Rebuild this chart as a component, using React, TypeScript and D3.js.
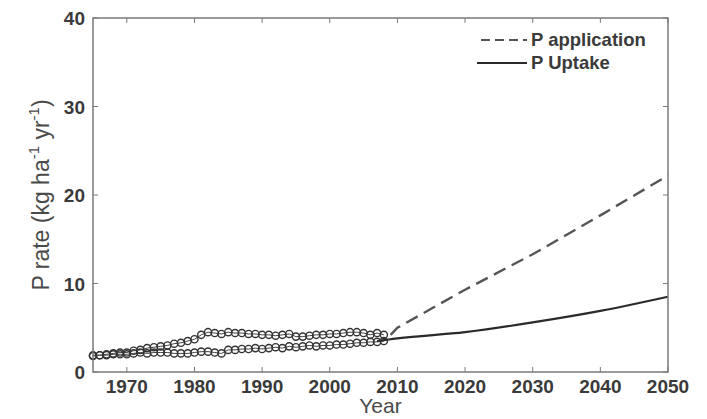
import React from 'react';
import * as d3 from 'd3';

// historical years 1965..2008
const years = d3.range(1965, 2009);

const appHist = [1.9, 1.9, 2.0, 2.1, 2.2, 2.2, 2.4, 2.5, 2.7, 2.8, 2.9, 3.0, 3.2, 3.3, 3.5, 3.7,
  4.2, 4.5, 4.4, 4.3, 4.5, 4.4, 4.4, 4.3, 4.3, 4.2, 4.2, 4.1, 4.2, 4.3, 4.0, 4.0, 4.1, 4.2,
  4.2, 4.3, 4.3, 4.4, 4.5, 4.5, 4.4, 4.2, 4.4, 4.2];

const uptHist = [1.8, 1.9, 1.9, 2.0, 2.0, 2.0, 2.1, 2.2, 2.1, 2.2, 2.2, 2.2, 2.1, 2.1, 2.1, 2.2,
  2.3, 2.3, 2.2, 2.1, 2.5, 2.5, 2.6, 2.6, 2.7, 2.6, 2.7, 2.8, 2.7, 2.9, 2.8, 2.9, 3.0, 2.9,
  3.0, 3.0, 3.1, 3.1, 3.2, 3.3, 3.3, 3.4, 3.4, 3.5];

// projections
const projYears = [2009, 2010, 2020, 2030, 2040, 2050];
const appProj = [4.2, 5.0, 9.3, 13.3, 17.7, 22.2];
const uptProj = [3.7, 3.8, 4.5, 5.6, 6.9, 8.5];

const xTicks = [1970, 1980, 1990, 2000, 2010, 2020, 2030, 2040, 2050];
const yTicks = [0, 10, 20, 30, 40];

const App = () => {
  const width = 707;
  const height = 419;
  const margin = { t: 18, b: 47, l: 93, r: 39 };

  const x = d3.scaleLinear().domain([1965, 2050]).range([margin.l, width - margin.r]);
  const y = d3.scaleLinear().domain([0, 40]).range([height - margin.b, margin.t]);

  const line = d3.line<[number, number]>()
    .x(d => x(d[0]))
    .y(d => y(d[1]));
  const smooth = d3.line<[number, number]>()
    .x(d => x(d[0]))
    .y(d => y(d[1]))
    .curve(d3.curveMonotoneX);

  const appH: [number, number][] = years.map((yr, i) => [yr, appHist[i]]);
  const uptH: [number, number][] = years.map((yr, i) => [yr, uptHist[i]]);
  const appP: [number, number][] = projYears.map((yr, i) => [yr, appProj[i]]);
  const uptP: [number, number][] = projYears.map((yr, i) => [yr, uptProj[i]]);

  const x0 = margin.l, x1 = width - margin.r;
  const y0 = height - margin.b, y1 = margin.t;
  const axisCol = '#7a7a7a';
  const textCol = '#3a3a3a';
  const font = 'Liberation Sans, Arial, sans-serif';

  return (
    <svg width={width} height={height} style={{ position: 'absolute', left: 0, top: 0, background: '#fff' }}>
      {/* historical lines */}
      <path d={line(appH) || ''} fill="none" stroke="#444" strokeWidth={1} />
      <path d={line(uptH) || ''} fill="none" stroke="#444" strokeWidth={1} />
      {/* projections */}
      <path d={line(appP) || ''} fill="none" stroke="#555" strokeWidth={2.4} strokeDasharray="13,7" />
      <path d={smooth([[2007, 3.5], [2008, 3.6], ...uptP]) || ''} fill="none" stroke="#2a2a2a" strokeWidth={2.2} />
      {/* circles */}
      <g fill="none" stroke="#333" strokeWidth={1.4}>
        {appH.map(d => <circle key={'a' + d[0]} cx={x(d[0])} cy={y(d[1])} r={3.6} />)}
        {uptH.map(d => <circle key={'u' + d[0]} cx={x(d[0])} cy={y(d[1])} r={3.6} />)}
      </g>

      {/* box */}
      <rect x={x0} y={y1} width={x1 - x0} height={y0 - y1} fill="none" stroke={axisCol} strokeWidth={1.5} />
      <g stroke={axisCol} strokeWidth={1}>
        {xTicks.map(t => (
          <g key={t}>
            <line x1={x(t)} x2={x(t)} y1={y0} y2={y0 - 5} />
            <line x1={x(t)} x2={x(t)} y1={y1} y2={y1 + 5} />
          </g>
        ))}
        {yTicks.map(t => (
          <g key={t}>
            <line x1={x0} x2={x0 + 5} y1={y(t)} y2={y(t)} />
            <line x1={x1} x2={x1 - 5} y1={y(t)} y2={y(t)} />
          </g>
        ))}
      </g>

      {/* tick labels */}
      <g fontFamily={font} fontWeight="bold" fontSize={19} fill={textCol}>
        {xTicks.map(t => (
          <text key={t} x={x(t)} y={y0 + 21} textAnchor="middle">{t}</text>
        ))}
        {yTicks.map(t => (
          <text key={t} x={x0 - 8} y={y(t) + 7} textAnchor="end">{t}</text>
        ))}
      </g>

      {/* axis titles */}
      <text x={(x0 + x1) / 2} y={413} textAnchor="middle" fontFamily={font} fontSize={21} fill="#4a4a4a">Year</text>
      <text transform={`translate(49,${(y0 + y1) / 2}) rotate(-90)`} textAnchor="middle"
        fontFamily={font} fontSize={23} fill="#4a4a4a">
        P rate (kg ha<tspan dy={-10} fontSize={15}>-1</tspan><tspan dy={10}> yr</tspan><tspan dy={-10} fontSize={15}>-1</tspan><tspan dy={10}>)</tspan>
      </text>

      {/* legend */}
      <g fontFamily={font} fontSize={18.5} fontWeight="bold" fill={textCol}>
        <line x1={481} x2={527} y1={40} y2={40} stroke="#555" strokeWidth={2} strokeDasharray="9,5" />
        <text x={531} y={46}>P application</text>
        <line x1={477} x2={527} y1={63} y2={63} stroke="#2a2a2a" strokeWidth={2} />
        <text x={531} y={69}>P Uptake</text>
      </g>
    </svg>
  );
};

export default App;
